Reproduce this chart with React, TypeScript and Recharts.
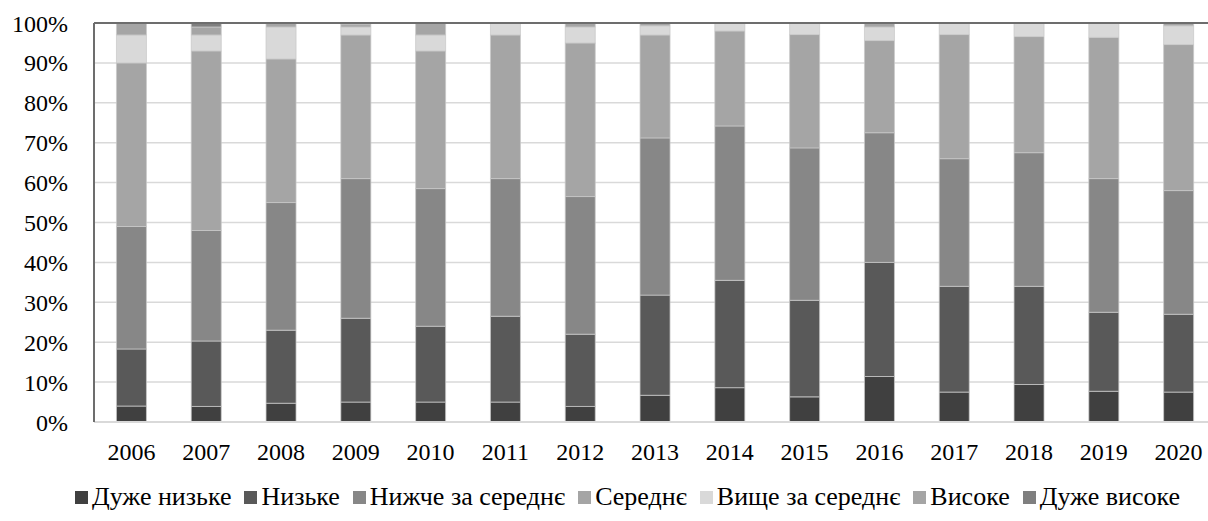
import React from "react"
import { Bar, BarChart, CartesianGrid, ReferenceLine, XAxis, YAxis } from "recharts"

const years = ["2006", "2007", "2008", "2009", "2010", "2011", "2012", "2013", "2014", "2015", "2016", "2017", "2018", "2019", "2020"]

const veryLow = [4, 3.9, 4.7, 5, 5, 5, 3.9, 6.7, 8.6, 6.3, 11.4, 7.5, 9.4, 7.7, 7.5]
const low = [14.3, 16.4, 18.3, 21, 19, 21.5, 18.1, 25.1, 26.9, 24.2, 28.6, 26.5, 24.6, 19.8, 19.5]
const belowAvg = [30.7, 27.7, 32, 35, 34.5, 34.5, 34.5, 39.4, 38.7, 38.2, 32.5, 32, 33.5, 33.5, 31]
const average = [41, 45, 36, 36, 34.5, 36, 38.5, 25.8, 23.8, 28.4, 23.1, 31.1, 29.1, 35.4, 36.6]
const aboveAvg = [7, 4, 8, 2, 4, 3, 4, 2.3, 2, 2.9, 3.4, 2.9, 3.4, 3.6, 4.7]
const high = [3, 2, 1, 0.6, 3, 0, 1, 0.7, 0, 0, 1, 0, 0, 0, 0.7]
const veryHigh = [0, 1, 0, 0.4, 0, 0, 0, 0, 0, 0, 0, 0, 0, 0, 0]

const yTicks = [0, 10, 20, 30, 40, 50, 60, 70, 80, 90, 100]

const series = [
  { key: "veryLow", name: "Дуже низьке", color: "#404040", values: veryLow },
  { key: "low", name: "Низьке", color: "#595959", values: low },
  { key: "belowAvg", name: "Нижче за середнє", color: "#878787", values: belowAvg },
  { key: "average", name: "Середнє", color: "#a5a5a5", values: average },
  { key: "aboveAvg", name: "Вище за середнє", color: "#d9d9d9", values: aboveAvg },
  { key: "high", name: "Високе", color: "#a5a5a5", values: high },
  { key: "veryHigh", name: "Дуже високе", color: "#7f7f7f", values: veryHigh },
]

const data = years.map((year, i) => {
  const row: any = { year }
  series.forEach((s) => (row[s.key] = s.values[i]))
  return row
})

const FONT = "Liberation Serif"

export default function App() {
  return (
    <div style={{ position: "fixed", left: 0, top: 0, width: 1208, height: 521, overflow: "hidden", background: "#fff", fontFamily: FONT }}>
      <BarChart
        width={1216}
        height={521}
        data={data}
        margin={{ top: 23, right: 0, left: 0, bottom: 0 }}
        barCategoryGap="30%"
        style={{ fontFamily: FONT }}
      >
        <CartesianGrid vertical={false} stroke="#d9d9d9" strokeWidth={1.5} />
        <XAxis
          dataKey="year"
          height={99}
          tickLine={false}
          tickSize={0}
          tickMargin={21}
          axisLine={{ stroke: "#d9d9d9", strokeWidth: 2 }}
          tick={{ fill: "#000", fontSize: 24, fontFamily: FONT }}
        />
        <YAxis
          width={94}
          domain={[0, 100]}
          ticks={yTicks}
          interval={0}
          tickFormatter={(v) => `${v}%`}
          tickLine={false}
          tickSize={0}
          tickMargin={26}
          axisLine={{ stroke: "#6d6d6d", strokeWidth: 2 }}
          tick={{ fill: "#000", fontSize: 24, fontFamily: FONT }}
        />
        {series.map((s) => (
          <Bar
            key={s.key}
            dataKey={s.key}
            name={s.name}
            stackId="a"
            fill={s.color}
            stroke="#c8c8c8"
            strokeWidth={0.75}
            isAnimationActive={false}
          />
        ))}
        <ReferenceLine y={100} stroke="#6d6d6d" strokeWidth={2} />
      </BarChart>
      <div
        style={{
          position: "absolute",
          right: 28,
          top: 482,
          display: "flex",
          alignItems: "center",
          fontSize: 26,
          color: "#000",
          whiteSpace: "nowrap",
        }}
      >
        {series.map((s, i) => (
          <span key={s.key} style={{ display: "inline-flex", alignItems: "center", marginLeft: i === 0 ? 0 : 13 }}>
            <span style={{ display: "inline-block", width: 13, height: 13, background: s.color, marginRight: 4 }} />
            {s.name}
          </span>
        ))}
      </div>
    </div>
  )
}
